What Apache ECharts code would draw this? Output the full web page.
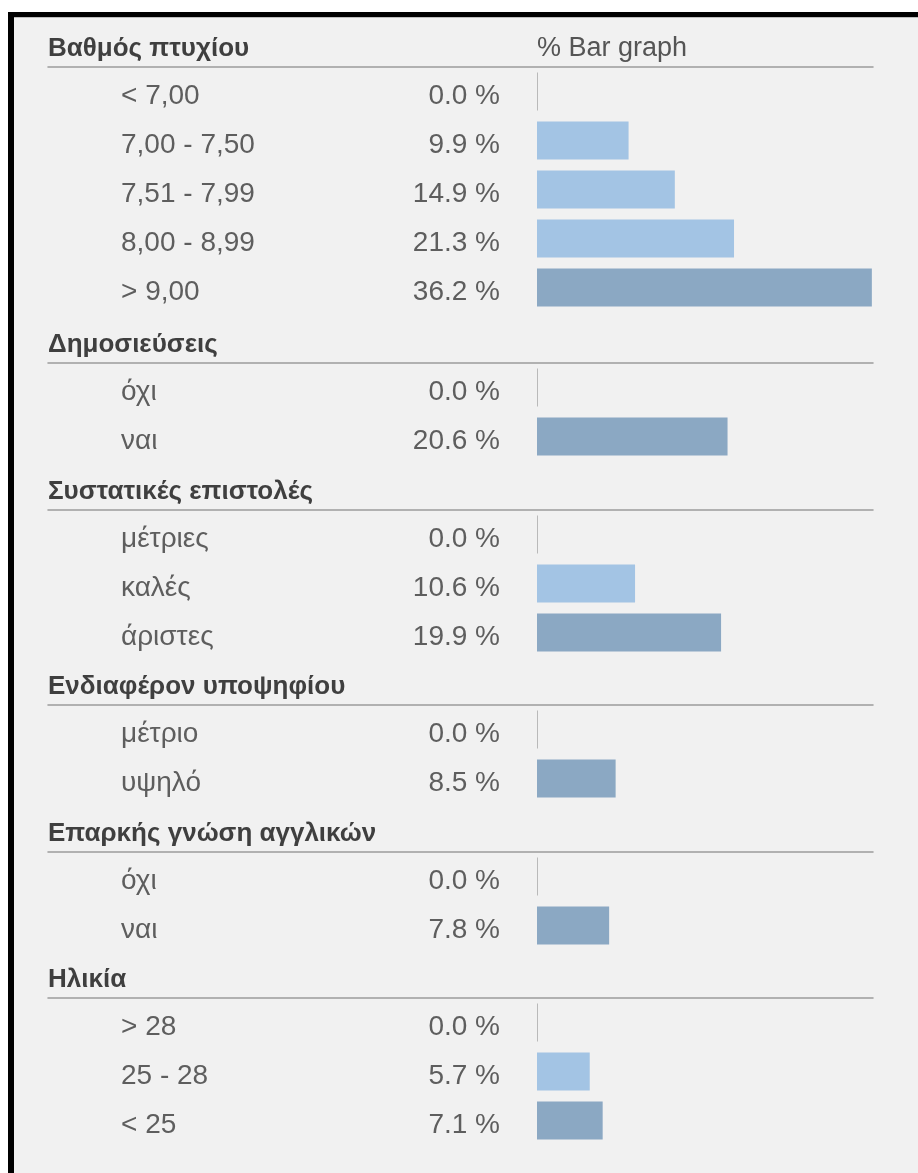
<!DOCTYPE html>
<html>
<head>
<meta charset="utf-8">
<script src="https://cdn.jsdelivr.net/npm/echarts@6/dist/echarts.min.js"></script>
<style>
  html, body { margin: 0; padding: 0; background: #ffffff; overflow: hidden; }
  #frame {
    position: absolute; left: 8px; top: 12px; width: 1000px; height: 1300px;
    border-left: 6px solid #000; border-top: 5px solid #000; background: #f1f1f1;
    box-shadow: inset 0 1px 0 #bdbdbd;
  }
  #chart { position: absolute; left: 0; top: 0; width: 918px; height: 1173px; }
</style>
</head>
<body>
<div id="frame"></div>
<div id="chart"></div>
<script>
// Group headings and the column heading of the bar column
const groupTitles = ['Βαθμός πτυχίου', 'Δημοσιεύσεις', 'Συστατικές επιστολές',
                     'Ενδιαφέρον υποψηφίου', 'Επαρκής γνώση αγγλικών', 'Ηλικία'];
const barColumnTitle = '% Bar graph';

// Categories and percentages of each group
const gradeCats = ['< 7,00', '7,00 - 7,50', '7,51 - 7,99', '8,00 - 8,99', '> 9,00'];
const gradeVals = [0.0, 9.9, 14.9, 21.3, 36.2];
const pubCats = ['όχι', 'ναι'];
const pubVals = [0.0, 20.6];
const letterCats = ['μέτριες', 'καλές', 'άριστες'];
const letterVals = [0.0, 10.6, 19.9];
const interestCats = ['μέτριο', 'υψηλό'];
const interestVals = [0.0, 8.5];
const englishCats = ['όχι', 'ναι'];
const englishVals = [0.0, 7.8];
const ageCats = ['> 28', '25 - 28', '< 25'];
const ageVals = [0.0, 5.7, 7.1];

const groupCats = [gradeCats, pubCats, letterCats, interestCats, englishCats, ageCats];
const groupVals = [gradeVals, pubVals, letterVals, interestVals, englishVals, ageVals];

// Layout (pixels)
const lineTops = [67, 363, 510, 705, 852, 998];   // heading rule of each group
const rowBand = 49;
const ruleLeft = 48, ruleRight = 873, zeroX = 537;
const pxPerPct = 9.25;
const xMin = -(zeroX - ruleLeft) / pxPerPct;
const xMax = (ruleRight - zeroX) / pxPerPct;

const FONT = '"Liberation Sans", Arial, sans-serif';
const LIGHT = '#a3c4e4', DARK = '#8ba8c3', ZERO = '#b9b9b9';
const ROW_FONT = 28;
// row texts sit a little below the bar centre: top-anchored with a short line box
const ROW_TEXT = { fontFamily: FONT, fontSize: ROW_FONT, color: '#5e5e5e', verticalAlign: 'top', lineHeight: 9 };

const grids = [], xAxes = [], yAxes = [], series = [], titles = [];

groupCats.forEach((cats, g) => {
  const vals = groupVals[g];
  const top = lineTops[g];
  const maxVal = Math.max(...vals);
  grids.push({ left: ruleLeft, width: ruleRight - ruleLeft, top: top, height: rowBand * cats.length });
  xAxes.push({
    type: 'value', gridIndex: g, position: 'top', min: xMin, max: xMax,
    axisLine: { show: true, onZero: false, lineStyle: { color: '#9c9c9c', width: 1.5 } },
    axisTick: { show: false }, axisLabel: { show: false }, splitLine: { show: false }
  });
  yAxes.push({
    type: 'category', gridIndex: g, data: cats, inverse: true,
    axisLine: { show: false }, axisTick: { show: false }, splitLine: { show: false },
    axisLabel: Object.assign({ inside: true, margin: 73, align: 'left' }, ROW_TEXT)
  });
  series.push({
    type: 'bar', xAxisIndex: g, yAxisIndex: g, barWidth: 38, barMinHeight: 1,
    silent: true,
    data: vals.map(v => ({
      value: v,
      itemStyle: { color: v === 0 ? ZERO : (v === maxVal ? DARK : LIGHT) }
    })),
    label: Object.assign({
      show: true, position: 'left', distance: 37,
      formatter: p => p.value.toFixed(1) + ' %'
    }, ROW_TEXT)
  });
  titles.push({
    text: groupTitles[g], left: ruleLeft, top: top - 18.5 - 13, padding: 0,
    textStyle: { fontFamily: FONT, fontSize: 26, fontWeight: 'bold', color: '#3f3f3f' }
  });
});

titles.push({
  text: barColumnTitle, left: zeroX, top: lineTops[0] - 18.5 - 13.5, padding: 0,
  textStyle: { fontFamily: FONT, fontSize: 27, fontWeight: 'normal', color: '#555555' }
});

const chart = echarts.init(document.getElementById('chart'), null, { renderer: 'canvas' });
chart.setOption({
  backgroundColor: 'transparent',
  animation: false,
  title: titles,
  grid: grids,
  xAxis: xAxes,
  yAxis: yAxes,
  series: series
});
</script>
</body>
</html>
